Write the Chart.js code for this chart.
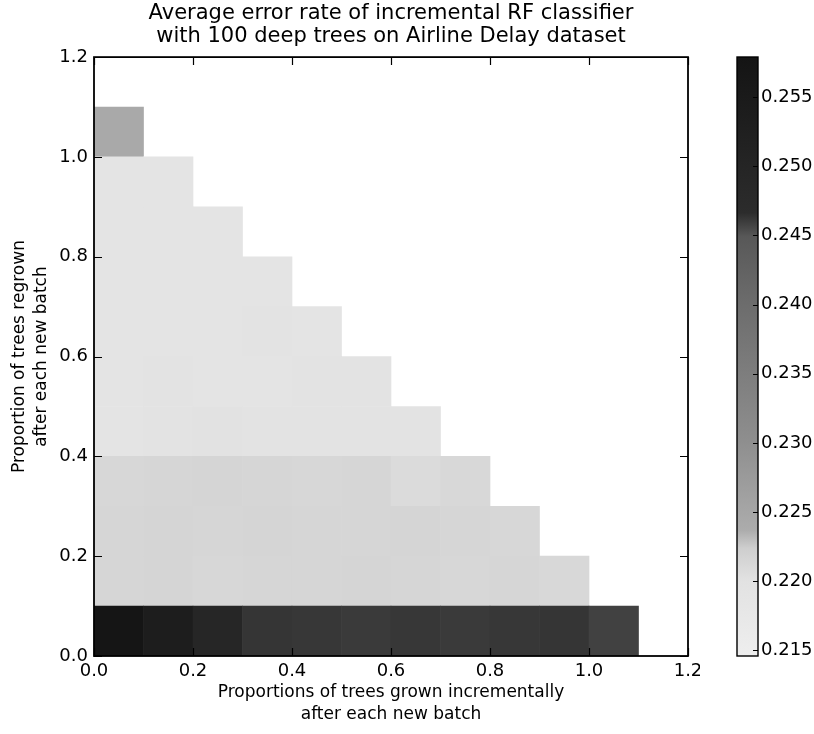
<!DOCTYPE html>
<html>
<head>
<meta charset="utf-8">
<script src="https://cdn.jsdelivr.net/npm/chart.js@4.4.1/dist/chart.umd.min.js"></script>
<style>
  body { margin: 0; background: #fff; }
  #wrap { position: relative; width: 814px; height: 734px; }
  #heat { position: absolute; left: 0; top: 0; }
  #cbar { position: absolute; left: 700px; top: 0; }
</style>
</head>
<body>
<div id="wrap">
  <canvas id="heat" width="700" height="734"></canvas>
  <canvas id="cbar" width="114" height="734"></canvas>
</div>
<script>
// left edge of each column (proportion of trees grown incrementally)
const grownX = [0.0, 0.1, 0.2, 0.3, 0.4, 0.5, 0.6, 0.7, 0.8, 0.9, 1.0];
// bottom edge of each row (proportion of trees regrown)
const regrownY = [0.0, 0.1, 0.2, 0.3, 0.4, 0.5, 0.6, 0.7, 0.8, 0.9, 1.0];

// average error rate, one array per row (row k has 11-k cells)
const err00 = [0.2575, 0.2535, 0.2495, 0.2463, 0.2462, 0.2461, 0.2462, 0.2461, 0.2462, 0.2463, 0.2458];
const err01 = [0.2214, 0.2216, 0.2213, 0.2215, 0.2214, 0.2216, 0.2214, 0.2213, 0.2215, 0.2212];
const err02 = [0.2215, 0.2216, 0.2214, 0.2216, 0.2215, 0.2214, 0.2216, 0.2215, 0.2213];
const err03 = [0.2213, 0.2215, 0.2216, 0.2214, 0.2213, 0.2215, 0.2209, 0.2212];
const err04 = [0.2192, 0.2196, 0.2198, 0.2194, 0.2196, 0.2197, 0.2196];
const err05 = [0.2190, 0.2194, 0.2193, 0.2192, 0.2195, 0.2194];
const err06 = [0.2191, 0.2193, 0.2190, 0.2194, 0.2193];
const err07 = [0.2189, 0.2191, 0.2192, 0.2193];
const err08 = [0.2190, 0.2190, 0.2192];
const err09 = [0.2192, 0.2191];
const err10 = [0.2243];
const errorRows = [err00, err01, err02, err03, err04, err05, err06, err07, err08, err09, err10];

const xTicks = [0.0, 0.2, 0.4, 0.6, 0.8, 1.0, 1.2];
const yTicks = [0.0, 0.2, 0.4, 0.6, 0.8, 1.0, 1.2];
const cbarTicks = [0.215, 0.220, 0.225, 0.230, 0.235, 0.240, 0.245, 0.250, 0.255];
const errMin = 0.2146;
const errMax = 0.2579;

// grey colormap as it looks on the scan (fraction of range -> grey level)
const greyStops = [[0, 238], [0.125, 226], [0.18, 206], [0.21, 172], [0.36, 142],
                   [0.59, 108], [0.70, 88], [0.74, 44], [1, 20]];

function greyAt(t) {
  t = Math.max(0, Math.min(1, t));
  for (let i = 1; i < greyStops.length; i++) {
    const a = greyStops[i - 1], b = greyStops[i];
    if (t <= b[0]) {
      const g = Math.round(a[1] + (b[1] - a[1]) * (t - a[0]) / (b[0] - a[0]));
      return 'rgb(' + g + ',' + g + ',' + g + ')';
    }
  }
  return 'rgb(20,20,20)';
}
function greyFor(v) {
  return greyAt((v - errMin) / (errMax - errMin));
}

const FONT = 'DejaVu Sans';
Chart.defaults.font.family = FONT;
Chart.defaults.color = '#000';

// frame + inward ticks like old matplotlib
const frameTicks = {
  id: 'frameTicks',
  afterDatasetsDraw(chart, args, opts) {
    const ctx = chart.ctx, a = chart.chartArea;
    ctx.save();
    ctx.strokeStyle = '#000';
    ctx.lineWidth = opts.lineWidth;
    ctx.strokeRect(a.left, a.top, a.right - a.left, a.bottom - a.top);
    ctx.lineWidth = 1.2;
    ctx.beginPath();
    Object.values(chart.scales).forEach(s => {
      if (!s.options.display) return;
      s.ticks.forEach(t => {
        const p = Math.round(s.getPixelForValue(t.value)) + 0.5;
        if (s.isHorizontal()) {
          ctx.moveTo(p, a.bottom); ctx.lineTo(p, a.bottom - opts.len);
          if (opts.both) { ctx.moveTo(p, a.top); ctx.lineTo(p, a.top + opts.len); }
        } else {
          ctx.moveTo(a.right, p); ctx.lineTo(a.right - opts.len, p);
          if (opts.both) { ctx.moveTo(a.left, p); ctx.lineTo(a.left + opts.len, p); }
        }
      });
    });
    ctx.stroke();
    ctx.restore();
  }
};

const datasets = errorRows.map((row, k) => ({
  data: row.map((v, i) => ({ x: grownX[i] + 0.05, y: [regrownY[k], regrownY[k] + 0.1] })),
  backgroundColor: row.map(greyFor),
  borderWidth: 0,
  grouped: false,
  barPercentage: 1,
  categoryPercentage: 1
}));

new Chart(document.getElementById('heat'), {
  type: 'bar',
  data: { datasets: datasets },
  plugins: [frameTicks],
  options: {
    responsive: false,
    animation: false,
    layout: { padding: { right: 12 } },
    plugins: {
      legend: { display: false },
      tooltip: { enabled: false },
      title: {
        display: true,
        fullSize: false,
        text: ['Average error rate of incremental RF classifier',
               'with 100 deep trees on Airline Delay dataset'],
        font: { size: 21, weight: 'normal', lineHeight: 1.05 },
        padding: { top: 3, bottom: 10 },
        color: '#000'
      },
      frameTicks: { lineWidth: 1.8, len: 8, both: true }
    },
    scales: {
      x: {
        type: 'linear',
        min: 0, max: 1.2,
        offset: false,
        afterBuildTicks: s => { s.ticks = xTicks.map(v => ({ value: v })); },
        afterFit: s => { s.height = 78; s.paddingLeft = 0; s.paddingRight = 0; },
        grid: { display: false, drawTicks: false, offset: false },
        border: { display: false },
        ticks: { font: { size: 18 }, padding: 5, maxRotation: 0, autoSkip: false,
                 callback: v => v.toFixed(1) },
        title: { display: true,
                 text: ['Proportions of trees grown incrementally', 'after each new batch'],
                 font: { size: 17, lineHeight: 1.3 }, padding: { top: 0, bottom: 8 } }
      },
      y: {
        type: 'linear',
        min: 0, max: 1.2,
        afterBuildTicks: s => { s.ticks = yTicks.map(v => ({ value: v })); },
        afterFit: s => { s.width = 94; s.paddingTop = 0; s.paddingBottom = 0; },
        grid: { display: false, drawTicks: false },
        border: { display: false },
        ticks: { font: { size: 18 }, padding: 6, autoSkip: false,
                 callback: v => v.toFixed(1) },
        title: { display: true,
                 text: ['Proportion of trees regrown', 'after each new batch'],
                 font: { size: 17, lineHeight: 1.24 }, padding: { top: 9.5, bottom: 0 } }
      }
    }
  }
});

// colorbar
new Chart(document.getElementById('cbar'), {
  type: 'bar',
  data: {
    labels: ['error'],
    datasets: [{
      data: [[errMin, errMax]],
      backgroundColor: c => {
        const a = c.chart.chartArea;
        if (!a) return '#888';
        const g = c.chart.ctx.createLinearGradient(0, a.bottom, 0, a.top);
        greyStops.forEach(s => g.addColorStop(s[0], greyAt(s[0])));
        return g;
      },
      borderWidth: 0,
      barPercentage: 1,
      categoryPercentage: 1
    }]
  },
  plugins: [frameTicks],
  options: {
    responsive: false,
    animation: false,
    layout: { padding: { left: 37, top: 57, bottom: 78 } },
    plugins: {
      legend: { display: false },
      tooltip: { enabled: false },
      frameTicks: { lineWidth: 1.4, len: 5, both: false }
    },
    scales: {
      x: { display: false },
      y: {
        position: 'right',
        min: errMin, max: errMax,
        afterBuildTicks: s => { s.ticks = cbarTicks.map(v => ({ value: v })); },
        afterFit: s => { s.width = 56; s.paddingTop = 0; s.paddingBottom = 0; },
        grid: { display: false, drawTicks: false },
        border: { display: false },
        ticks: { font: { size: 18 }, padding: 3, autoSkip: false,
                 callback: v => v.toFixed(3) }
      }
    }
  }
});
</script>
</body>
</html>
